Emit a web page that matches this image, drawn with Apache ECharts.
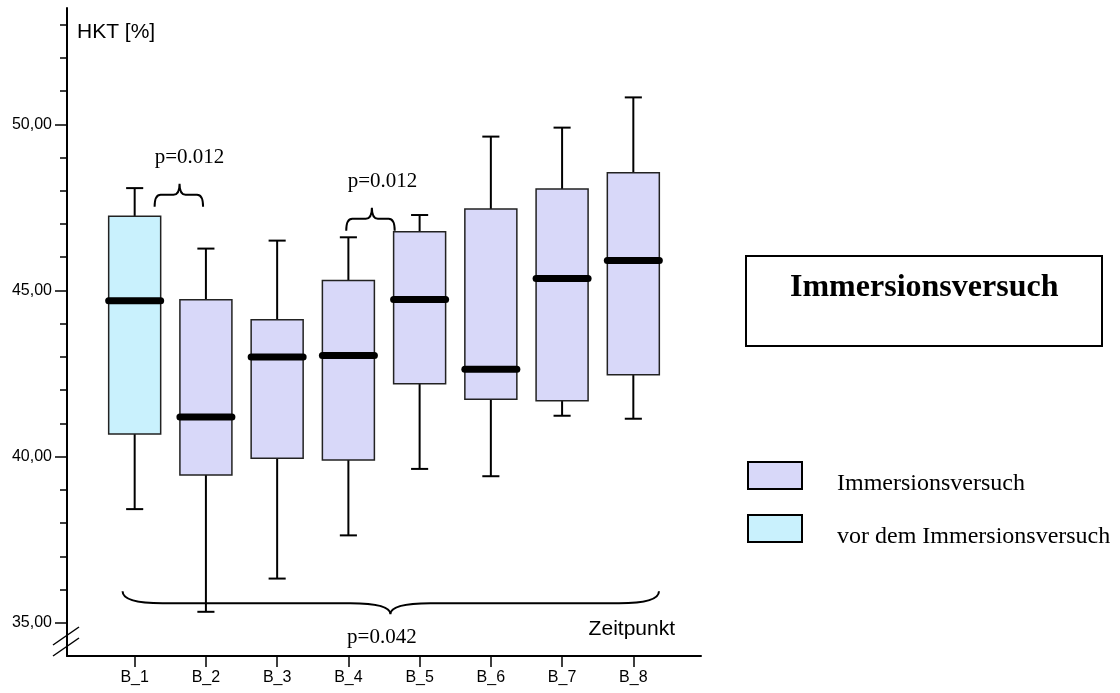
<!DOCTYPE html>
<html>
<head>
<meta charset="utf-8">
<script src="https://cdn.jsdelivr.net/npm/echarts@6/dist/echarts.min.js"></script>
<style>
html,body{margin:0;padding:0;background:#fff;}
#chart{width:1120px;height:693px;}
</style>
</head>
<body>
<div id="chart"></div>
<script>
// ---- data ----
const categories = ['B_1', 'B_2', 'B_3', 'B_4', 'B_5', 'B_6', 'B_7', 'B_8'];
const whiskerLow  = [38.42, 35.33, 36.33, 37.63, 39.63, 39.41, 41.23, 41.14];
const q1          = [40.68, 39.45, 39.95, 39.90, 42.19, 41.73, 41.68, 42.46];
const median      = [44.69, 41.19, 43.00, 43.04, 44.73, 42.63, 45.36, 45.90];
const q3          = [47.23, 44.72, 44.12, 45.30, 46.77, 47.45, 48.05, 48.54];
const whiskerHigh = [48.08, 46.26, 46.50, 46.60, 47.27, 49.63, 49.90, 50.81];
const groupOf     = ['vor dem Immersionsversuch', 'Immersionsversuch', 'Immersionsversuch', 'Immersionsversuch',
                     'Immersionsversuch', 'Immersionsversuch', 'Immersionsversuch', 'Immersionsversuch'];
const seriesNames = ['Immersionsversuch', 'vor dem Immersionsversuch'];
const yMajorTicks = [35, 40, 45, 50];
const yMinorTicks = [36, 37, 38, 39, 41, 42, 43, 44, 46, 47, 48, 49, 51, 52, 53];
// braces: [fromX, toX, lineY, tipX, direction(1 = tip up, -1 = tip down)]
const braces = [[1.28, 1.96, 47.88, 1.63, 1], [3.97, 4.65, 47.16, 4.33, 1], [0.83, 8.36, 35.59, 4.59, -1]];
// p-value labels: [text, x, y]
const pLabels = [['p=0.012', 1.77, 49.01], ['p=0.012', 4.48, 48.27], ['p=0.042', 4.47, 34.57]];
const titleText = 'Immersionsversuch';
const yName = 'HKT [%]';
const xName = 'Zeitpunkt';

const colors = { 'Immersionsversuch': '#d8d8f9', 'vor dem Immersionsversuch': '#c9f1fd' };

function boxData(name) {
  const out = [];
  categories.forEach((c, i) => {
    if (groupOf[i] === name) out.push([i + 1, whiskerLow[i], q1[i], median[i], q3[i], whiskerHigh[i]]);
  });
  return out;
}

function renderBox(params, api) {
  const x = api.value(0);
  const pLow = api.coord([x, api.value(1)]);
  const pQ1 = api.coord([x, api.value(2)]);
  const pMed = api.coord([x, api.value(3)]);
  const pQ3 = api.coord([x, api.value(4)]);
  const pHigh = api.coord([x, api.value(5)]);
  const cx = pMed[0];
  const half = api.size([0.73, 0])[0] / 2;
  const cap = api.size([0.24, 0])[0] / 2;
  const fill = api.visual('color');
  const ls = { stroke: '#000', lineWidth: 2 };
  return {
    type: 'group',
    children: [
      { type: 'line', shape: { x1: cx, y1: pHigh[1], x2: cx, y2: pQ3[1] }, style: ls },
      { type: 'line', shape: { x1: cx, y1: pQ1[1], x2: cx, y2: pLow[1] }, style: ls },
      { type: 'line', shape: { x1: cx - cap, y1: pHigh[1], x2: cx + cap, y2: pHigh[1] }, style: ls },
      { type: 'line', shape: { x1: cx - cap, y1: pLow[1], x2: cx + cap, y2: pLow[1] }, style: ls },
      { type: 'rect', shape: { x: cx - half, y: pQ3[1], width: half * 2, height: pQ1[1] - pQ3[1] },
        style: { fill: fill, stroke: '#222', lineWidth: 1.5 } },
      { type: 'line', shape: { x1: cx - half, y1: pMed[1], x2: cx + half, y2: pMed[1] },
        style: { stroke: '#000', lineWidth: 7, lineCap: 'round' } }
    ]
  };
}

function renderBrace(params, api) {
  const a = api.coord([api.value(0), api.value(2)]);
  const b = api.coord([api.value(1), api.value(2)]);
  const t = api.coord([api.value(3), api.value(2)]);
  const dir = api.value(4);
  const x0 = a[0], x1 = b[0], yl = a[1], tx = t[0];
  const r = Math.min(40, (x1 - x0) / 8);
  const yEnd = yl + 12 * dir;
  const yTip = yl - 11 * dir;
  const path = `M${x0},${yEnd} Q${x0},${yl} ${x0 + r},${yl} L${tx - r},${yl} Q${tx},${yl} ${tx},${yTip} ` +
               `Q${tx},${yl} ${tx + r},${yl} L${x1 - r},${yl} Q${x1},${yl} ${x1},${yEnd}`;
  return { type: 'path', shape: { pathData: path }, style: { fill: 'none', stroke: '#000', lineWidth: 2 } };
}

function renderLabel(params, api) {
  const p = api.coord([api.value(1), api.value(2)]);
  return { type: 'text', x: p[0], y: p[1],
    style: { text: pLabels[params.dataIndex][0], font: '21px "Liberation Serif"', fill: '#000',
             align: 'center', verticalAlign: 'middle' } };
}

const fmt = v => v.toFixed(2).replace('.', ',');

const chart = echarts.init(document.getElementById('chart'), null, { renderer: 'canvas' });
chart.setOption({
  animation: false,
  backgroundColor: '#fff',
  title: {
    text: titleText, left: 746, top: 256,
    padding: [16, 44, 42, 44], borderColor: '#000', borderWidth: 2,
    textStyle: { fontFamily: 'Liberation Serif', fontWeight: 'bold', fontSize: 32, color: '#000' }
  },
  legend: {
    orient: 'vertical', left: 742, top: 450,
    itemWidth: 54, itemHeight: 27, itemGap: 12, icon: 'rect',
    data: seriesNames.map(n => ({ name: n, itemStyle: { color: colors[n], borderColor: '#000', borderWidth: 2 } })),
    formatter: n => '\n' + n,
    textStyle: { fontFamily: 'Liberation Serif', fontSize: 24, lineHeight: 17, color: '#000', padding: [0, 0, 0, 30] },
    selectedMode: false
  },
  grid: { left: 67, right: 419, top: 8, bottom: 37, containLabel: false },
  xAxis: {
    type: 'value', min: 0.05, max: 8.95,
    name: xName, nameLocation: 'end', nameGap: -26,
    nameTextStyle: { fontFamily: 'Liberation Sans', fontSize: 21, color: '#000', align: 'right', verticalAlign: 'bottom', padding: [0, 0, 16, 0] },
    axisLine: { show: true, onZero: false, lineStyle: { color: '#000', width: 2 } },
    axisTick: { show: true, length: 11, lineStyle: { color: '#000', width: 1.5 }, customValues: categories.map((c, i) => i + 1) },
    axisLabel: { show: true, customValues: categories.map((c, i) => i + 1), formatter: v => categories[Math.round(v) - 1],
                 fontFamily: 'Liberation Sans', fontSize: 16, color: '#000', margin: 14 },
    splitLine: { show: false }
  },
  yAxis: [{
    type: 'value', min: 34, max: 53.5, position: 'left',
    name: yName, nameLocation: 'end', nameGap: -24,
    nameTextStyle: { fontFamily: 'Liberation Sans', fontSize: 21, color: '#000', align: 'left', verticalAlign: 'middle', padding: [0, 0, 0, 10] },
    axisLine: { show: true, onZero: false, lineStyle: { color: '#000', width: 2 } },
    axisTick: { show: true, length: 12, lineStyle: { color: '#000', width: 1.5 }, customValues: yMajorTicks },
    axisLabel: { show: true, customValues: yMajorTicks, formatter: fmt, fontFamily: 'Liberation Sans', fontSize: 16, color: '#000', margin: 15 },
    splitLine: { show: false }
  }, {
    type: 'value', min: 34, max: 53.5, position: 'left', offset: 0,
    axisLine: { show: false },
    axisTick: { show: true, length: 7, lineStyle: { color: '#000', width: 1.5 }, customValues: yMinorTicks },
    axisLabel: { show: false },
    splitLine: { show: false }
  }],
  graphic: [
    { type: 'line', shape: { x1: 53, y1: 645, x2: 79, y2: 627 }, style: { stroke: '#000', lineWidth: 1.5 } },
    { type: 'line', shape: { x1: 53, y1: 656, x2: 79, y2: 638 }, style: { stroke: '#000', lineWidth: 1.5 } }
  ],
  series: [
    ...seriesNames.map(n => ({
      name: n, type: 'custom', renderItem: renderBox, clip: false,
      itemStyle: { color: colors[n], borderColor: '#000', borderWidth: 2 },
      encode: { x: 0, y: [1, 2, 3, 4, 5] },
      data: boxData(n), z: 3
    })),
    { name: 'braces', type: 'custom', renderItem: renderBrace, clip: false, silent: true,
      encode: { x: [0, 1], y: 2 }, data: braces, z: 4 },
    { name: 'pvalues', type: 'custom', renderItem: renderLabel, clip: false, silent: true,
      encode: { x: 1, y: 2 }, data: pLabels.map(p => [0, p[1], p[2]]), z: 4 }
  ]
});
</script>
</body>
</html>
